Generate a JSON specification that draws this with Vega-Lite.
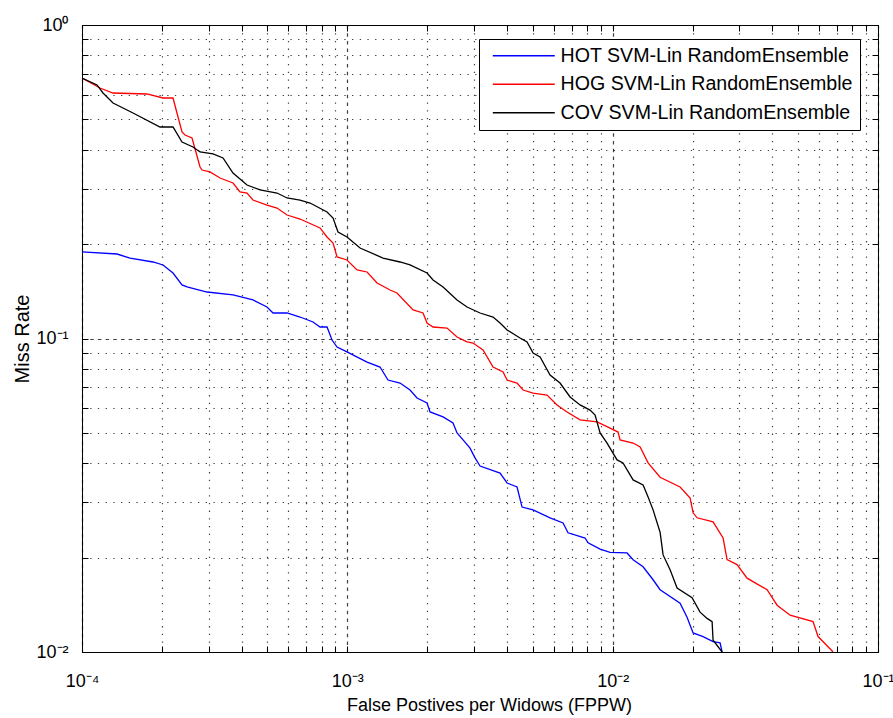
{
  "$schema": "https://vega.github.io/schema/vega-lite/v6.json",
  "width": 796,
  "height": 627,
  "autosize": {"type": "none"},
  "padding": {"left": 82, "top": 25, "right": 15, "bottom": 66},
  "background": "white",
  "config": {
    "font": "Liberation Sans",
    "view": {"stroke": "#000", "strokeWidth": 1},
    "axis": {"labelColor": "#000", "titleColor": "#000", "labelFont": "Liberation Sans", "titleFont": "Liberation Sans", "titleFontWeight": "normal", "domainColor": "#000", "tickColor": "#000"}
  },
  "data": {"values": [
    {"s":"HOT SVM-Lin RandomEnsemble","i":1,"x":0.0001,"y":0.189},
    {"s":"HOT SVM-Lin RandomEnsemble","i":2,"x":0.0001355,"y":0.186},
    {"s":"HOT SVM-Lin RandomEnsemble","i":3,"x":0.0001517,"y":0.1806},
    {"s":"HOT SVM-Lin RandomEnsemble","i":4,"x":0.0001852,"y":0.1754},
    {"s":"HOT SVM-Lin RandomEnsemble","i":5,"x":0.000202,"y":0.1716},
    {"s":"HOT SVM-Lin RandomEnsemble","i":6,"x":0.0002203,"y":0.1618},
    {"s":"HOT SVM-Lin RandomEnsemble","i":7,"x":0.0002382,"y":0.1482},
    {"s":"HOT SVM-Lin RandomEnsemble","i":8,"x":0.0002488,"y":0.146},
    {"s":"HOT SVM-Lin RandomEnsemble","i":9,"x":0.000296,"y":0.1407},
    {"s":"HOT SVM-Lin RandomEnsemble","i":10,"x":0.0003708,"y":0.1377},
    {"s":"HOT SVM-Lin RandomEnsemble","i":11,"x":0.000441,"y":0.1327},
    {"s":"HOT SVM-Lin RandomEnsemble","i":12,"x":0.000498,"y":0.126},
    {"s":"HOT SVM-Lin RandomEnsemble","i":13,"x":0.0005248,"y":0.1206},
    {"s":"HOT SVM-Lin RandomEnsemble","i":14,"x":0.0005927,"y":0.1206},
    {"s":"HOT SVM-Lin RandomEnsemble","i":15,"x":0.0006633,"y":0.1171},
    {"s":"HOT SVM-Lin RandomEnsemble","i":16,"x":0.0007426,"y":0.1129},
    {"s":"HOT SVM-Lin RandomEnsemble","i":17,"x":0.000789,"y":0.1088},
    {"s":"HOT SVM-Lin RandomEnsemble","i":18,"x":0.0008385,"y":0.1088},
    {"s":"HOT SVM-Lin RandomEnsemble","i":19,"x":0.0008756,"y":0.0989},
    {"s":"HOT SVM-Lin RandomEnsemble","i":20,"x":0.0009147,"y":0.0939},
    {"s":"HOT SVM-Lin RandomEnsemble","i":21,"x":0.000997,"y":0.0906},
    {"s":"HOT SVM-Lin RandomEnsemble","i":22,"x":0.001187,"y":0.0841},
    {"s":"HOT SVM-Lin RandomEnsemble","i":23,"x":0.001328,"y":0.0811},
    {"s":"HOT SVM-Lin RandomEnsemble","i":24,"x":0.001423,"y":0.0737},
    {"s":"HOT SVM-Lin RandomEnsemble","i":25,"x":0.00158,"y":0.0721},
    {"s":"HOT SVM-Lin RandomEnsemble","i":26,"x":0.001723,"y":0.0685},
    {"s":"HOT SVM-Lin RandomEnsemble","i":27,"x":0.001831,"y":0.0646},
    {"s":"HOT SVM-Lin RandomEnsemble","i":28,"x":0.001997,"y":0.0623},
    {"s":"HOT SVM-Lin RandomEnsemble","i":29,"x":0.00205,"y":0.0583},
    {"s":"HOT SVM-Lin RandomEnsemble","i":30,"x":0.002295,"y":0.0562},
    {"s":"HOT SVM-Lin RandomEnsemble","i":31,"x":0.002502,"y":0.0538},
    {"s":"HOT SVM-Lin RandomEnsemble","i":32,"x":0.002591,"y":0.05},
    {"s":"HOT SVM-Lin RandomEnsemble","i":33,"x":0.00273,"y":0.0475},
    {"s":"HOT SVM-Lin RandomEnsemble","i":34,"x":0.0029,"y":0.0447},
    {"s":"HOT SVM-Lin RandomEnsemble","i":35,"x":0.003029,"y":0.0416},
    {"s":"HOT SVM-Lin RandomEnsemble","i":36,"x":0.003163,"y":0.0392},
    {"s":"HOT SVM-Lin RandomEnsemble","i":37,"x":0.003763,"y":0.0372},
    {"s":"HOT SVM-Lin RandomEnsemble","i":38,"x":0.004,"y":0.0346},
    {"s":"HOT SVM-Lin RandomEnsemble","i":39,"x":0.004362,"y":0.0336},
    {"s":"HOT SVM-Lin RandomEnsemble","i":40,"x":0.004555,"y":0.029},
    {"s":"HOT SVM-Lin RandomEnsemble","i":41,"x":0.005012,"y":0.0284},
    {"s":"HOT SVM-Lin RandomEnsemble","i":42,"x":0.005808,"y":0.0268},
    {"s":"HOT SVM-Lin RandomEnsemble","i":43,"x":0.006501,"y":0.0258},
    {"s":"HOT SVM-Lin RandomEnsemble","i":44,"x":0.00679,"y":0.024},
    {"s":"HOT SVM-Lin RandomEnsemble","i":45,"x":0.00787,"y":0.0231},
    {"s":"HOT SVM-Lin RandomEnsemble","i":46,"x":0.00808,"y":0.0223},
    {"s":"HOT SVM-Lin RandomEnsemble","i":47,"x":0.008966,"y":0.0213},
    {"s":"HOT SVM-Lin RandomEnsemble","i":48,"x":0.00978,"y":0.0208},
    {"s":"HOT SVM-Lin RandomEnsemble","i":49,"x":0.01133,"y":0.0207},
    {"s":"HOT SVM-Lin RandomEnsemble","i":50,"x":0.01194,"y":0.0197},
    {"s":"HOT SVM-Lin RandomEnsemble","i":51,"x":0.01302,"y":0.0187},
    {"s":"HOT SVM-Lin RandomEnsemble","i":52,"x":0.0142,"y":0.017},
    {"s":"HOT SVM-Lin RandomEnsemble","i":53,"x":0.01509,"y":0.0158},
    {"s":"HOT SVM-Lin RandomEnsemble","i":54,"x":0.01795,"y":0.0143},
    {"s":"HOT SVM-Lin RandomEnsemble","i":55,"x":0.01907,"y":0.0129},
    {"s":"HOT SVM-Lin RandomEnsemble","i":56,"x":0.0201,"y":0.0115},
    {"s":"HOT SVM-Lin RandomEnsemble","i":57,"x":0.02192,"y":0.0112},
    {"s":"HOT SVM-Lin RandomEnsemble","i":58,"x":0.0239,"y":0.0108},
    {"s":"HOT SVM-Lin RandomEnsemble","i":59,"x":0.0254,"y":0.0107},
    {"s":"HOT SVM-Lin RandomEnsemble","i":60,"x":0.02585,"y":0.01},
    {"s":"HOG SVM-Lin RandomEnsemble","i":1,"x":0.0001,"y":0.6773},
    {"s":"HOG SVM-Lin RandomEnsemble","i":2,"x":0.0001169,"y":0.6296},
    {"s":"HOG SVM-Lin RandomEnsemble","i":3,"x":0.0001309,"y":0.6069},
    {"s":"HOG SVM-Lin RandomEnsemble","i":4,"x":0.0001758,"y":0.6025},
    {"s":"HOG SVM-Lin RandomEnsemble","i":5,"x":0.000202,"y":0.585},
    {"s":"HOG SVM-Lin RandomEnsemble","i":6,"x":0.0002203,"y":0.585},
    {"s":"HOG SVM-Lin RandomEnsemble","i":7,"x":0.000228,"y":0.524},
    {"s":"HOG SVM-Lin RandomEnsemble","i":8,"x":0.0002382,"y":0.4557},
    {"s":"HOG SVM-Lin RandomEnsemble","i":9,"x":0.0002444,"y":0.4458},
    {"s":"HOG SVM-Lin RandomEnsemble","i":10,"x":0.0002598,"y":0.4361},
    {"s":"HOG SVM-Lin RandomEnsemble","i":11,"x":0.0002785,"y":0.3524},
    {"s":"HOG SVM-Lin RandomEnsemble","i":12,"x":0.0002834,"y":0.3447},
    {"s":"HOG SVM-Lin RandomEnsemble","i":13,"x":0.0003037,"y":0.3398},
    {"s":"HOG SVM-Lin RandomEnsemble","i":14,"x":0.0003313,"y":0.3251},
    {"s":"HOG SVM-Lin RandomEnsemble","i":15,"x":0.0003708,"y":0.3133},
    {"s":"HOG SVM-Lin RandomEnsemble","i":16,"x":0.000394,"y":0.2933},
    {"s":"HOG SVM-Lin RandomEnsemble","i":17,"x":0.0004188,"y":0.2911},
    {"s":"HOG SVM-Lin RandomEnsemble","i":18,"x":0.000441,"y":0.2765},
    {"s":"HOG SVM-Lin RandomEnsemble","i":19,"x":0.000498,"y":0.2665},
    {"s":"HOG SVM-Lin RandomEnsemble","i":20,"x":0.0005433,"y":0.2607},
    {"s":"HOG SVM-Lin RandomEnsemble","i":21,"x":0.0005927,"y":0.2477},
    {"s":"HOG SVM-Lin RandomEnsemble","i":22,"x":0.0006633,"y":0.2405},
    {"s":"HOG SVM-Lin RandomEnsemble","i":23,"x":0.000789,"y":0.2252},
    {"s":"HOG SVM-Lin RandomEnsemble","i":24,"x":0.0008385,"y":0.2108},
    {"s":"HOG SVM-Lin RandomEnsemble","i":25,"x":0.0008834,"y":0.2017},
    {"s":"HOG SVM-Lin RandomEnsemble","i":26,"x":0.0009147,"y":0.182},
    {"s":"HOG SVM-Lin RandomEnsemble","i":27,"x":0.000997,"y":0.178},
    {"s":"HOG SVM-Lin RandomEnsemble","i":28,"x":0.001088,"y":0.1654},
    {"s":"HOG SVM-Lin RandomEnsemble","i":29,"x":0.001187,"y":0.163},
    {"s":"HOG SVM-Lin RandomEnsemble","i":30,"x":0.001294,"y":0.1503},
    {"s":"HOG SVM-Lin RandomEnsemble","i":31,"x":0.001449,"y":0.1428},
    {"s":"HOG SVM-Lin RandomEnsemble","i":32,"x":0.001539,"y":0.1397},
    {"s":"HOG SVM-Lin RandomEnsemble","i":33,"x":0.001769,"y":0.1233},
    {"s":"HOG SVM-Lin RandomEnsemble","i":34,"x":0.001929,"y":0.1206},
    {"s":"HOG SVM-Lin RandomEnsemble","i":35,"x":0.001997,"y":0.112},
    {"s":"HOG SVM-Lin RandomEnsemble","i":36,"x":0.002104,"y":0.1088},
    {"s":"HOG SVM-Lin RandomEnsemble","i":37,"x":0.002376,"y":0.108},
    {"s":"HOG SVM-Lin RandomEnsemble","i":38,"x":0.002591,"y":0.1011},
    {"s":"HOG SVM-Lin RandomEnsemble","i":39,"x":0.002826,"y":0.0975},
    {"s":"HOG SVM-Lin RandomEnsemble","i":40,"x":0.002977,"y":0.0967},
    {"s":"HOG SVM-Lin RandomEnsemble","i":41,"x":0.003247,"y":0.0919},
    {"s":"HOG SVM-Lin RandomEnsemble","i":42,"x":0.003542,"y":0.0811},
    {"s":"HOG SVM-Lin RandomEnsemble","i":43,"x":0.003864,"y":0.0782},
    {"s":"HOG SVM-Lin RandomEnsemble","i":44,"x":0.004,"y":0.0737},
    {"s":"HOG SVM-Lin RandomEnsemble","i":45,"x":0.004362,"y":0.0721},
    {"s":"HOG SVM-Lin RandomEnsemble","i":46,"x":0.004595,"y":0.0685},
    {"s":"HOG SVM-Lin RandomEnsemble","i":47,"x":0.005012,"y":0.067},
    {"s":"HOG SVM-Lin RandomEnsemble","i":48,"x":0.00566,"y":0.066},
    {"s":"HOG SVM-Lin RandomEnsemble","i":49,"x":0.00617,"y":0.0614},
    {"s":"HOG SVM-Lin RandomEnsemble","i":50,"x":0.00673,"y":0.0583},
    {"s":"HOG SVM-Lin RandomEnsemble","i":51,"x":0.007536,"y":0.055},
    {"s":"HOG SVM-Lin RandomEnsemble","i":52,"x":0.008735,"y":0.0542},
    {"s":"HOG SVM-Lin RandomEnsemble","i":53,"x":0.00978,"y":0.0518},
    {"s":"HOG SVM-Lin RandomEnsemble","i":54,"x":0.01048,"y":0.0503},
    {"s":"HOG SVM-Lin RandomEnsemble","i":55,"x":0.01066,"y":0.0475},
    {"s":"HOG SVM-Lin RandomEnsemble","i":56,"x":0.01194,"y":0.0464},
    {"s":"HOG SVM-Lin RandomEnsemble","i":57,"x":0.01269,"y":0.0451},
    {"s":"HOG SVM-Lin RandomEnsemble","i":58,"x":0.0136,"y":0.0401},
    {"s":"HOG SVM-Lin RandomEnsemble","i":59,"x":0.01509,"y":0.0361},
    {"s":"HOG SVM-Lin RandomEnsemble","i":60,"x":0.01795,"y":0.0336},
    {"s":"HOG SVM-Lin RandomEnsemble","i":61,"x":0.01958,"y":0.031},
    {"s":"HOG SVM-Lin RandomEnsemble","i":62,"x":0.0201,"y":0.0278},
    {"s":"HOG SVM-Lin RandomEnsemble","i":63,"x":0.0208,"y":0.0268},
    {"s":"HOG SVM-Lin RandomEnsemble","i":64,"x":0.0239,"y":0.026},
    {"s":"HOG SVM-Lin RandomEnsemble","i":65,"x":0.02607,"y":0.0231},
    {"s":"HOG SVM-Lin RandomEnsemble","i":66,"x":0.02699,"y":0.0197},
    {"s":"HOG SVM-Lin RandomEnsemble","i":67,"x":0.02943,"y":0.019},
    {"s":"HOG SVM-Lin RandomEnsemble","i":68,"x":0.0321,"y":0.0172},
    {"s":"HOG SVM-Lin RandomEnsemble","i":69,"x":0.0382,"y":0.0158},
    {"s":"HOG SVM-Lin RandomEnsemble","i":70,"x":0.04166,"y":0.0141},
    {"s":"HOG SVM-Lin RandomEnsemble","i":71,"x":0.04664,"y":0.0131},
    {"s":"HOG SVM-Lin RandomEnsemble","i":72,"x":0.0569,"y":0.0125},
    {"s":"HOG SVM-Lin RandomEnsemble","i":73,"x":0.05945,"y":0.0112},
    {"s":"HOG SVM-Lin RandomEnsemble","i":74,"x":0.06774,"y":0.01},
    {"s":"COV SVM-Lin RandomEnsemble","i":1,"x":0.0001,"y":0.6773},
    {"s":"COV SVM-Lin RandomEnsemble","i":2,"x":0.0001139,"y":0.6437},
    {"s":"COV SVM-Lin RandomEnsemble","i":3,"x":0.00012,"y":0.6069},
    {"s":"COV SVM-Lin RandomEnsemble","i":4,"x":0.0001309,"y":0.5639},
    {"s":"COV SVM-Lin RandomEnsemble","i":5,"x":0.0001557,"y":0.524},
    {"s":"COV SVM-Lin RandomEnsemble","i":6,"x":0.0001968,"y":0.4728},
    {"s":"COV SVM-Lin RandomEnsemble","i":7,"x":0.0002203,"y":0.4728},
    {"s":"COV SVM-Lin RandomEnsemble","i":8,"x":0.0002382,"y":0.4233},
    {"s":"COV SVM-Lin RandomEnsemble","i":9,"x":0.000262,"y":0.4081},
    {"s":"COV SVM-Lin RandomEnsemble","i":10,"x":0.0002785,"y":0.3935},
    {"s":"COV SVM-Lin RandomEnsemble","i":11,"x":0.0003117,"y":0.3878},
    {"s":"COV SVM-Lin RandomEnsemble","i":12,"x":0.00034,"y":0.3765},
    {"s":"COV SVM-Lin RandomEnsemble","i":13,"x":0.0003708,"y":0.3372},
    {"s":"COV SVM-Lin RandomEnsemble","i":14,"x":0.0004188,"y":0.3088},
    {"s":"COV SVM-Lin RandomEnsemble","i":15,"x":0.0004688,"y":0.2977},
    {"s":"COV SVM-Lin RandomEnsemble","i":16,"x":0.0005433,"y":0.2911},
    {"s":"COV SVM-Lin RandomEnsemble","i":17,"x":0.0005927,"y":0.2807},
    {"s":"COV SVM-Lin RandomEnsemble","i":18,"x":0.0006633,"y":0.2765},
    {"s":"COV SVM-Lin RandomEnsemble","i":19,"x":0.0007235,"y":0.2705},
    {"s":"COV SVM-Lin RandomEnsemble","i":20,"x":0.0008385,"y":0.2532},
    {"s":"COV SVM-Lin RandomEnsemble","i":21,"x":0.0008834,"y":0.2422},
    {"s":"COV SVM-Lin RandomEnsemble","i":22,"x":0.0009224,"y":0.2186},
    {"s":"COV SVM-Lin RandomEnsemble","i":23,"x":0.000997,"y":0.2108},
    {"s":"COV SVM-Lin RandomEnsemble","i":24,"x":0.001117,"y":0.1944},
    {"s":"COV SVM-Lin RandomEnsemble","i":25,"x":0.001363,"y":0.1806},
    {"s":"COV SVM-Lin RandomEnsemble","i":26,"x":0.00158,"y":0.1754},
    {"s":"COV SVM-Lin RandomEnsemble","i":27,"x":0.001723,"y":0.1716},
    {"s":"COV SVM-Lin RandomEnsemble","i":28,"x":0.001997,"y":0.1618},
    {"s":"COV SVM-Lin RandomEnsemble","i":29,"x":0.002104,"y":0.1537},
    {"s":"COV SVM-Lin RandomEnsemble","i":30,"x":0.002295,"y":0.146},
    {"s":"COV SVM-Lin RandomEnsemble","i":31,"x":0.002591,"y":0.1327},
    {"s":"COV SVM-Lin RandomEnsemble","i":32,"x":0.002826,"y":0.126},
    {"s":"COV SVM-Lin RandomEnsemble","i":33,"x":0.003163,"y":0.1206},
    {"s":"COV SVM-Lin RandomEnsemble","i":34,"x":0.003542,"y":0.1171},
    {"s":"COV SVM-Lin RandomEnsemble","i":35,"x":0.003763,"y":0.112},
    {"s":"COV SVM-Lin RandomEnsemble","i":36,"x":0.004,"y":0.1064},
    {"s":"COV SVM-Lin RandomEnsemble","i":37,"x":0.004477,"y":0.1004},
    {"s":"COV SVM-Lin RandomEnsemble","i":38,"x":0.004757,"y":0.0975},
    {"s":"COV SVM-Lin RandomEnsemble","i":39,"x":0.005012,"y":0.0899},
    {"s":"COV SVM-Lin RandomEnsemble","i":40,"x":0.005327,"y":0.0873},
    {"s":"COV SVM-Lin RandomEnsemble","i":41,"x":0.005808,"y":0.0765},
    {"s":"COV SVM-Lin RandomEnsemble","i":42,"x":0.006334,"y":0.0721},
    {"s":"COV SVM-Lin RandomEnsemble","i":43,"x":0.006909,"y":0.0651},
    {"s":"COV SVM-Lin RandomEnsemble","i":44,"x":0.007536,"y":0.0614},
    {"s":"COV SVM-Lin RandomEnsemble","i":45,"x":0.008218,"y":0.0591},
    {"s":"COV SVM-Lin RandomEnsemble","i":46,"x":0.008585,"y":0.057},
    {"s":"COV SVM-Lin RandomEnsemble","i":47,"x":0.008966,"y":0.05},
    {"s":"COV SVM-Lin RandomEnsemble","i":48,"x":0.009526,"y":0.0464},
    {"s":"COV SVM-Lin RandomEnsemble","i":49,"x":0.01039,"y":0.041},
    {"s":"COV SVM-Lin RandomEnsemble","i":50,"x":0.01094,"y":0.0401},
    {"s":"COV SVM-Lin RandomEnsemble","i":51,"x":0.01194,"y":0.0354},
    {"s":"COV SVM-Lin RandomEnsemble","i":52,"x":0.01302,"y":0.0341},
    {"s":"COV SVM-Lin RandomEnsemble","i":53,"x":0.0136,"y":0.0312},
    {"s":"COV SVM-Lin RandomEnsemble","i":54,"x":0.0142,"y":0.0284},
    {"s":"COV SVM-Lin RandomEnsemble","i":55,"x":0.01509,"y":0.0241},
    {"s":"COV SVM-Lin RandomEnsemble","i":56,"x":0.01549,"y":0.0204},
    {"s":"COV SVM-Lin RandomEnsemble","i":57,"x":0.01646,"y":0.0183},
    {"s":"COV SVM-Lin RandomEnsemble","i":58,"x":0.01749,"y":0.016},
    {"s":"COV SVM-Lin RandomEnsemble","i":59,"x":0.01992,"y":0.0149},
    {"s":"COV SVM-Lin RandomEnsemble","i":60,"x":0.02135,"y":0.0134},
    {"s":"COV SVM-Lin RandomEnsemble","i":61,"x":0.02269,"y":0.0128},
    {"s":"COV SVM-Lin RandomEnsemble","i":62,"x":0.0237,"y":0.0125},
    {"s":"COV SVM-Lin RandomEnsemble","i":63,"x":0.0239,"y":0.0109},
    {"s":"COV SVM-Lin RandomEnsemble","i":64,"x":0.02585,"y":0.01}
  ]},
  "resolve": {"axis": {"x": "independent", "y": "independent"}},
  "layer": [
    {
      "mark": {"type": "line", "strokeWidth": 1.3, "clip": true},
      "encoding": {
        "x": {"field": "x", "type": "quantitative",
          "scale": {"type": "log", "domain": [0.0001, 0.1], "nice": false},
          "axis": {"orient": "bottom", "title": "False Postives per Widows (FPPW)", "titleFontSize": 18, "titlePadding": 6, "titleX": 407,
            "values": [0.0001,0.0002,0.0003,0.0004,0.0005,0.0006,0.0007,0.0008,0.0009,0.001,0.002,0.003,0.004,0.005,0.006,0.007,0.008,0.009,0.01,0.02,0.03,0.04,0.05,0.06,0.07,0.08,0.09,0.1],
            "labelExpr": "datum.value == 0.0001 ? '10⁻⁴' : datum.value == 0.001 ? '10⁻³' : datum.value == 0.01 ? '10⁻²' : datum.value == 0.1 ? '10⁻¹' : ''",
            "labelFontSize": 18, "labelPadding": 26, "labelFlush": false, "labelOverlap": false,
            "tickSize": -6, "tickWidth": 1,
            "grid": true, "gridColor": "#000", "gridWidth": 1.2, "gridOpacity": 0.75,
            "gridDash": {"condition": {"test": "datum.value == 0.0001 || datum.value == 0.001 || datum.value == 0.01 || datum.value == 0.1", "value": [3.5, 4.2]}, "value": [1.3, 6.4]},
            "domain": true}},
        "y": {"field": "y", "type": "quantitative",
          "scale": {"type": "log", "domain": [0.01, 1], "nice": false},
          "axis": {"orient": "left", "title": "Miss Rate", "titleFontSize": 20, "titlePadding": 3,
            "values": [0.01,0.02,0.03,0.04,0.05,0.06,0.07,0.08,0.09,0.1,0.2,0.3,0.4,0.5,0.6,0.7,0.8,0.9,1],
            "labelExpr": "datum.value == 0.01 ? '10⁻²' : datum.value == 0.1 ? '10⁻¹' : datum.value == 1 ? '10⁰' : ''",
            "labelFontSize": 18, "labelPadding": 20, "labelFlush": false, "labelOverlap": false,
            "tickSize": -6, "tickWidth": 1,
            "grid": true, "gridColor": "#000", "gridWidth": 1.2, "gridOpacity": 0.75,
            "gridDash": {"condition": {"test": "datum.value == 0.01 || datum.value == 0.1 || datum.value == 1", "value": [3.5, 4.2]}, "value": [1.3, 6.4]},
            "domain": true}},
        "color": {"field": "s", "type": "nominal",
          "scale": {"domain": ["HOT SVM-Lin RandomEnsemble", "HOG SVM-Lin RandomEnsemble", "COV SVM-Lin RandomEnsemble"], "range": ["#0000FF", "#FF0000", "#000000"]},
          "legend": {"title": null, "orient": "none", "legendX": 397, "legendY": 14,
            "fillColor": "white", "strokeColor": "#000", "padding": 7, "symbolOffset": 28,
            "symbolType": "M-4,0H4", "symbolSize": 240, "symbolStrokeWidth": 1.5, "symbolFillColor": "transparent",
            "labelFontSize": 19.6, "labelColor": "#000", "labelFont": "Liberation Sans", "labelLimit": 400, "labelOffset": 27, "rowPadding": 7.5}},
        "order": {"field": "i", "type": "quantitative"}
      }
    },
    {
      "mark": {"type": "line", "strokeOpacity": 0},
      "encoding": {
        "x": {"field": "x", "type": "quantitative",
          "axis": {"orient": "top", "title": null, "labels": false,
            "values": [0.0001,0.0002,0.0003,0.0004,0.0005,0.0006,0.0007,0.0008,0.0009,0.001,0.002,0.003,0.004,0.005,0.006,0.007,0.008,0.009,0.01,0.02,0.03,0.04,0.05,0.06,0.07,0.08,0.09,0.1],
            "tickSize": -6, "tickWidth": 1, "grid": false, "domain": true}},
        "y": {"field": "y", "type": "quantitative",
          "axis": {"orient": "right", "title": null, "labels": false,
            "values": [0.01,0.02,0.03,0.04,0.05,0.06,0.07,0.08,0.09,0.1,0.2,0.3,0.4,0.5,0.6,0.7,0.8,0.9,1],
            "tickSize": -6, "tickWidth": 1, "grid": false, "domain": true}},
        "detail": {"field": "s", "type": "nominal"},
        "order": {"field": "i", "type": "quantitative"}
      }
    }
  ]
}
